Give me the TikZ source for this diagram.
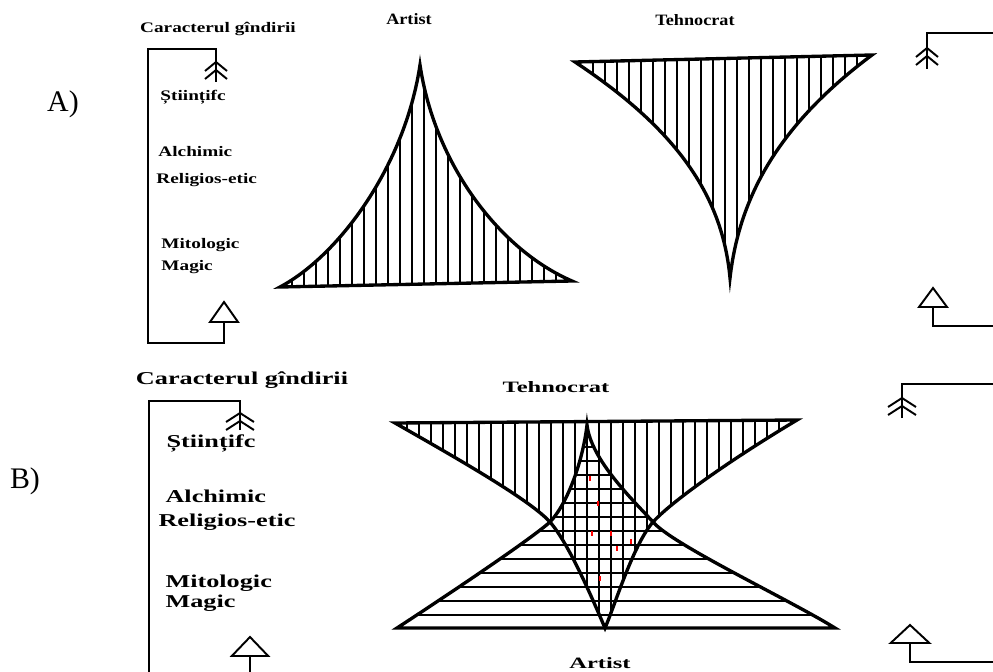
\documentclass[tikz,border=0pt]{standalone}
\usepackage{fontspec}
\setmainfont{Liberation Serif}
\usetikzlibrary{positioning,calc}

% outlines of the four figures (pixel units)
\newcommand{\artistA}{(280,287) .. controls (340,255) and (405,165) .. (420,65)
  .. controls (435,165) and (500,250) .. (572,281) -- cycle}
\newcommand{\tehnoA}{(575,62) .. controls (670,125) and (722,190) .. (730,278)
  .. controls (740,190) and (785,120) .. (872,55) -- cycle}
\newcommand{\tehnoB}{(395,423) .. controls (460,460) and (530,500) .. (550,522)
  .. controls (570,545) and (595,605) .. (605,628)
  .. controls (615,605) and (633,545) .. (653,522)
  .. controls (673,500) and (735,457) .. (797,420) -- cycle}
\newcommand{\artistB}{(397,628) .. controls (440,600) and (530,540) .. (550,522)
  .. controls (568,503) and (583,460) .. (587,425)
  .. controls (591,460) and (633,500) .. (653,522)
  .. controls (673,545) and (790,600) .. (835,628) -- cycle}

\begin{document}
\begin{tikzpicture}[x=0.02cm, y=-0.02cm,
    outline/.style={line width=1.9pt, line join=miter},
    hatch/.style={line width=0.9pt},
    bracket/.style={line width=1.1pt},
    lblA/.style={font=\bfseries\fontsize{8.3}{9}\selectfont, xscale=1.32, anchor=west, inner sep=0pt},
    lblB/.style={font=\bfseries\fontsize{10.3}{11}\selectfont, xscale=1.45, anchor=west, inner sep=0pt},
    title/.style={font=\bfseries\fontsize{9}{10}\selectfont, inner sep=0pt},
    part/.style={font=\fontsize{17}{18}\selectfont, inner sep=0pt},
    feather/.pic={\draw[bracket] (-11,9) -- (0,0) -- (11,9) (-11,17) -- (0,8) -- (11,17);},
    tri/.pic={\draw[bracket, fill=white] (0,0) -- (-14,20) -- (14,20) -- cycle;}]
    \useasboundingbox (0,0) rectangle (993,672);

    % A) single figures
    \node[part] (pA) at (63,104) {A)};
    \node[lblA, anchor=center] (carA) at (218,29) {Caracterul gîndirii};
    \node[lblA] (stA) at (160,97) {Științifc};
    \node[lblA] (alA) at (158,152) {Alchimic};
    \node[lblA] (reA) at (156,180) {Religios-etic};
    \node[lblA] (miA) at (161,245) {Mitologic};
    \node[lblA] (maA) at (161,267) {Magic};
    \node[title, xscale=1.15] (artA) at (409,19) {Artist};
    \node[title, xscale=1.15] (tehA) at (695,20) {Tehnocrat};

    \draw[bracket] (216,82) -- (216,49) -- (148,49) -- (148,343) -- (224,343) -- (224,322);
    \pic at (216,62) {feather};
    \pic at (224,302) {tri};
    \draw[bracket] (927,69) -- (927,33) -- (995,33);
    \pic at (927,48) {feather};
    \draw[bracket] (933,307) -- (933,326) -- (995,326);
    \pic[yscale=0.95] at (933,288) {tri};

    \begin{scope}
      \clip \artistA;
      \foreach \x in {292,304,...,568} \draw[hatch] (\x,60) -- (\x,295);
    \end{scope}
    \draw[outline] \artistA;

    \begin{scope}
      \clip \tehnoA;
      \foreach \x in {593,605,...,869} \draw[hatch] (\x,50) -- (\x,285);
    \end{scope}
    \draw[outline] \tehnoA;

    % B) overlapping figures
    \node[part] (pB) at (25,481) {B)};
    \node[lblB, anchor=center] (carB) at (242,380) {Caracterul gîndirii};
    \node[lblB] (stB) at (166,443) {Științifc};
    \node[lblB] (alB) at (165,496) {Alchimic};
    \node[lblB] (reB) at (158,522) {Religios-etic};
    \node[lblB] (miB) at (165,583) {Mitologic};
    \node[lblB] (maB) at (165,603) {Magic};
    \node[title, xscale=1.55] (tehB) at (556,387) {Tehnocrat};
    \node[title, xscale=1.55] (artB) at (600,663) {Artist};

    \draw[bracket] (240,430) -- (240,401) -- (149,401) -- (149,673);
    \pic[xscale=1.27] at (240,413) {feather};
    \draw[bracket] (250,656) -- (250,673);
    \pic[xscale=1.3, yscale=0.95] at (250,637) {tri};
    \draw[bracket] (902,418) -- (902,384) -- (995,384);
    \pic[xscale=1.27] at (902,398) {feather};
    \draw[bracket] (910,643) -- (910,662) -- (995,662);
    \pic[xscale=1.38, yscale=0.9] at (910,625) {tri};

    \begin{scope}
      \clip \tehnoB;
      \foreach \x in {407,419,...,791} \draw[hatch] (\x,415) -- (\x,632);
    \end{scope}
    \begin{scope}
      \clip \artistB;
      \foreach \y in {447,461,...,615} \draw[hatch] (390,\y) -- (840,\y);
    \end{scope}
    \foreach \p/\q in {590/476, 598/501, 592/531, 611/531, 631/539, 617/546, 600/576}
      \draw[red, line width=1.4pt] (\p,\q) -- (\p,\q+5);
    \draw[outline] \tehnoB;
    \draw[outline] \artistB;
\end{tikzpicture}
\end{document}
